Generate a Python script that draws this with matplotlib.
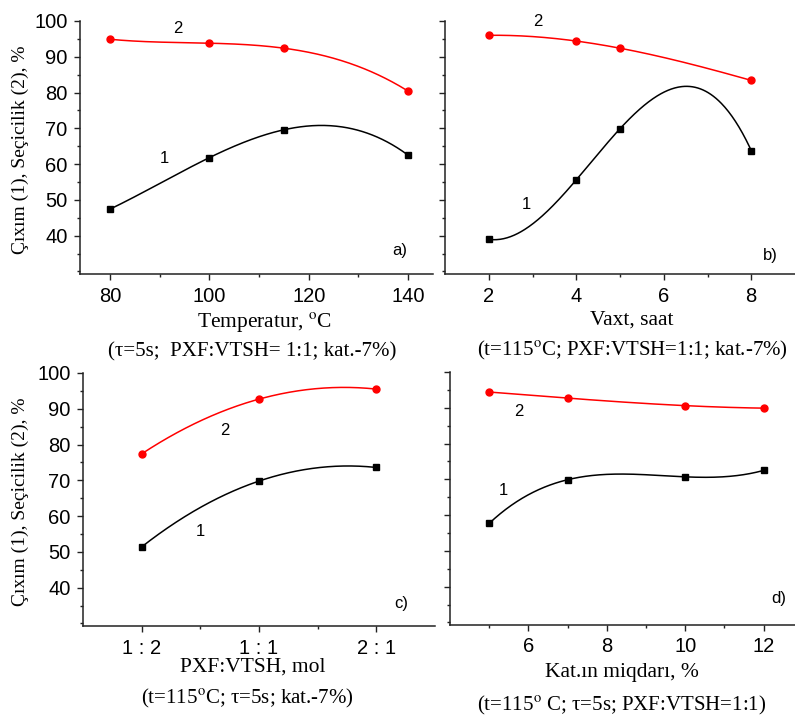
import numpy as np
import matplotlib.pyplot as plt
from matplotlib.ticker import FixedLocator

plt.rcParams['font.family'] = ['Liberation Sans', 'DejaVu Sans']
plt.rcParams['mathtext.fontset'] = 'stix'

SERIF = ['Liberation Serif', 'DejaVu Serif']

# panel a: temperature
temp_x = [80, 100, 115, 140]
temp_yield = [47.4, 61.8, 69.6, 62.5]
temp_sel = [94.9, 93.8, 92.4, 80.4]

# panel b: time
time_x = [2, 4, 5, 8]
time_yield = [39.0, 55.6, 69.9, 63.8]
time_sel = [96.0, 94.4, 92.4, 83.4]

# panel c: molar ratio
ratio_labels = ["1 : 2", "1 : 1", "2 : 1"]
ratio_x = [0, 1, 2]
ratio_yield = [51.4, 69.8, 73.6]
ratio_sel = [77.4, 92.7, 95.5]

# panel d: catalyst amount
cat_x = [5, 7, 10, 12]
cat_yield = [57.7, 69.9, 70.7, 72.5]
cat_sel = [94.4, 92.7, 90.6, 89.9]

ylabel = "Çıxım (1), Seçicilik (2), %"


def smooth(x, y):
    # curve through all points, like Origin's spline connector
    x = np.asarray(x, float)
    coef = np.polyfit(x, y, len(x) - 1)
    xs = np.linspace(x[0], x[-1], 300)
    return xs, np.polyval(coef, xs)


def draw(ax, x, yld, sel, xlim, major, minor, lbl1, lbl2, letter, show_y):
    xs, ys = smooth(x, sel)
    ax.plot(xs, ys, color="#ff0000", lw=1.1)
    ax.plot(x, sel, "o", color="#ff0000", ms=5)
    xs, ys = smooth(x, yld)
    ax.plot(xs, ys, color="black", lw=1.1)
    ax.plot(x, yld, "s", color="black", ms=4.2)

    ax.set_xlim(*xlim)
    ax.set_ylim(29.3, 100)
    ax.xaxis.set_major_locator(FixedLocator(major))
    ax.xaxis.set_minor_locator(FixedLocator(minor))
    ax.yaxis.set_major_locator(FixedLocator([40, 50, 60, 70, 80, 90, 100]))
    ax.yaxis.set_minor_locator(FixedLocator([30, 35, 45, 55, 65, 75, 85, 95]))
    for s in ["top", "right"]:
        ax.spines[s].set_visible(False)
    for s in ["left", "bottom"]:
        ax.spines[s].set_linewidth(1.1)
        ax.spines[s].set_color("#222222")
    ax.tick_params(which="major", length=4, width=1, color="#222222",
                   labelsize=14.5, pad=5)
    ax.tick_params(which="minor", length=2.5, width=1, color="#222222")
    if not show_y:
        ax.tick_params(axis="y", labelleft=False)

    ax.text(lbl1[0], lbl1[1], "1", fontsize=12, ha="center", va="center")
    ax.text(lbl2[0], lbl2[1], "2", fontsize=12, ha="center", va="center")
    ax.text(letter[0], letter[1], letter[2], fontsize=12, ha="center", va="center")


fig = plt.figure(figsize=(7.95, 7.15), dpi=100)
W, H = 795.0, 715.0


def axes_px(l, r, t, b):
    return fig.add_axes([l / W, 1 - b / H, (r - l) / W, (b - t) / H])


ax_a = axes_px(80, 433, 21, 274)
ax_b = axes_px(445, 795, 21, 274)
ax_c = axes_px(83, 435, 373, 626)
ax_d = axes_px(450, 795, 372, 625)

draw(ax_a, temp_x, temp_yield, temp_sel, (74, 145), [80, 100, 120, 140],
     [90, 110, 130], (91, 61.6), (93.7, 98), (138.4, 36, "a)"), True)
draw(ax_b, time_x, time_yield, time_sel, (1, 9), [2, 4, 6, 8],
     [3, 5, 7], (2.86, 48.6), (3.13, 100), (8.43, 34.5, "b)"), False)
draw(ax_c, ratio_x, ratio_yield, ratio_sel, (-0.5, 2.5), ratio_x,
     [0.5, 1.5], (0.5, 55.6), (0.71, 84), (2.21, 35.7, "c)"), True)
ax_c.set_xticklabels(ratio_labels)
draw(ax_d, cat_x, cat_yield, cat_sel, (4, 12.8), [6, 8, 10, 12],
     [5, 7, 9, 11], (5.36, 66.9), (5.75, 88.9), (12.38, 36.7, "d)"), False)


def ftext(x, y, s, **kw):
    fig.text(x / W, 1 - y / H, s, ha="center", va="center", family=SERIF, **kw)


ftext(20, 150, ylabel, fontsize=14, rotation=90)
ftext(20, 502, ylabel, fontsize=14, rotation=90)

ftext(265, 322, "Temperatur, $^{\\mathrm{o}}$C", fontsize=15.5)
ftext(252, 352, "(τ=5s;  PXF:VTSH= 1:1; kat.-7%)", fontsize=15)
ftext(632, 320, "Vaxt, saat", fontsize=15.5)
ftext(632, 350, "(t=115$^{\\mathrm{o}}$C; PXF:VTSH=1:1; kat.-7%)", fontsize=15)
ftext(253, 667, "PXF:VTSH, mol", fontsize=15.5)
ftext(247, 698, "(t=115$^{\\mathrm{o}}$C; τ=5s; kat.-7%)", fontsize=15)
ftext(622, 672, "Kat.ın miqdarı, %", fontsize=15.5)
ftext(622, 705, "(t=115$^{\\mathrm{o}}$ C; τ=5s; PXF:VTSH=1:1)", fontsize=15)

fig.savefig("out.png", dpi=100)
